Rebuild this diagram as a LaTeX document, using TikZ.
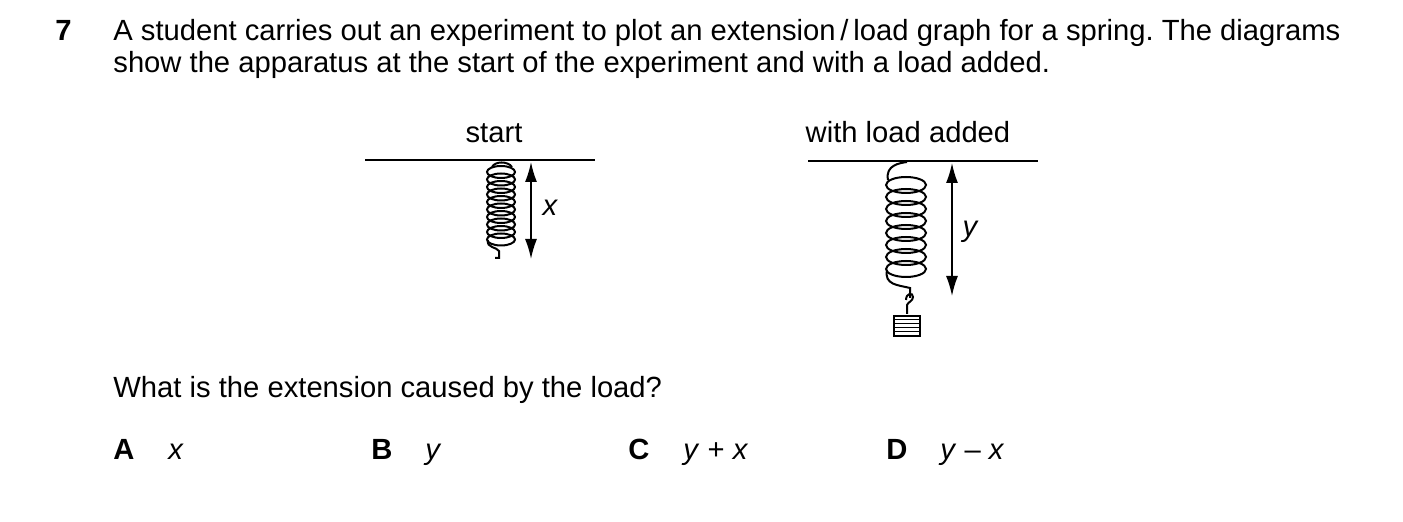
\documentclass[tikz,border=0pt]{standalone}
\usepackage{fontspec}
\setmainfont{Liberation Sans}
\usetikzlibrary{arrows.meta}
\begin{document}
\frenchspacing
\fontsize{14.6}{18}\selectfont
\begin{tikzpicture}[x=0.5pt,y=-0.5pt,
	txt/.style={anchor=base west,inner sep=0pt},
	dim/.style={thick,{Latex[length=10pt,width=6pt]}-{Latex[length=10pt,width=6pt]}},
	coil/.style={line width=1pt}]
	\useasboundingbox (0,0) rectangle (1403,522);
	% Frage
	\node[txt,font=\bfseries] (num) at (55,41) {7};
	\node[txt] (l1) at (113,41) {A student carries out an experiment to plot an extension\,/\,load graph for a spring. The diagrams};
	\node[txt] (l2) at (113,73) {show the apparatus at the start of the experiment and with a load added.};
	% Titel
	\node[anchor=base] (tstart) at (494,143) {start};
	\node[anchor=base] (tload) at (908,143) {with load added};
	% Decken
	\draw[thick] (365,160) -- (595,160);
	\draw[thick] (808,161) -- (1038,161);
	% Feder ohne Last
	\foreach \k in {0,...,9}
		\draw[coil] (501,{172+7.5*\k}) ellipse (14 and 6);
	\draw[coil] (492,167) .. controls (495,161) and (508,161) .. (512,167);
	\draw[coil] (488,240) .. controls (486,248) and (497,247) .. (499,251)
		-- (499,258) -- (495,258);
	\coordinate (xt) at (531,162);
	\coordinate (xb) at (531,259);
	\draw[dim] (xt) -- (xb);
	\node[font=\itshape] (xl) at (550,208) {x};
	% Feder mit Last
	\foreach \k in {0,...,7}
		\draw[coil] (906,{185+12*\k}) ellipse (20 and 8);
	\draw[coil] (888,180) .. controls (885,165) and (900,163) .. (907,162);
	\draw[coil] (887,270) .. controls (884,285) and (898,285) .. (910,288)
		-- (910,298);
	\draw[coil] (906,300) .. controls (906,293) and (913,292) .. (913,297)
		.. controls (913,301) and (908,302) .. (907,305) -- (907,314);
	\node[draw,thick,minimum width=13pt,minimum height=10pt,inner sep=0pt] (mass) at (907,326) {};
	\foreach \k in {1,...,4}
		\draw[thin] ([yshift=-\k*2pt]mass.north west) -- ([yshift=-\k*2pt]mass.north east);
	\coordinate (yt) at (952,163);
	\coordinate (yb) at (952,296);
	\draw[dim] (yt) -- (yb);
	\node[font=\itshape] (yl) at (970,232) {y};
	% Antworten
	\node[txt] (q) at (113,398) {What is the extension caused by the load?};
	\node[txt,font=\bfseries] (oa) at (113,460) {A};
	\node[txt,font=\itshape] (va) at (168,460) {x};
	\node[txt,font=\bfseries] (ob) at (371,460) {B};
	\node[txt,font=\itshape] (vb) at (425,460) {y};
	\node[txt,font=\bfseries] (oc) at (628,460) {C};
	\node[txt] (vc) at (683,460) {\textit{y} + \textit{x}};
	\node[txt,font=\bfseries] (od) at (886,460) {D};
	\node[txt] (vd) at (940,460) {\textit{y} -- \textit{x}};
\end{tikzpicture}
\end{document}
